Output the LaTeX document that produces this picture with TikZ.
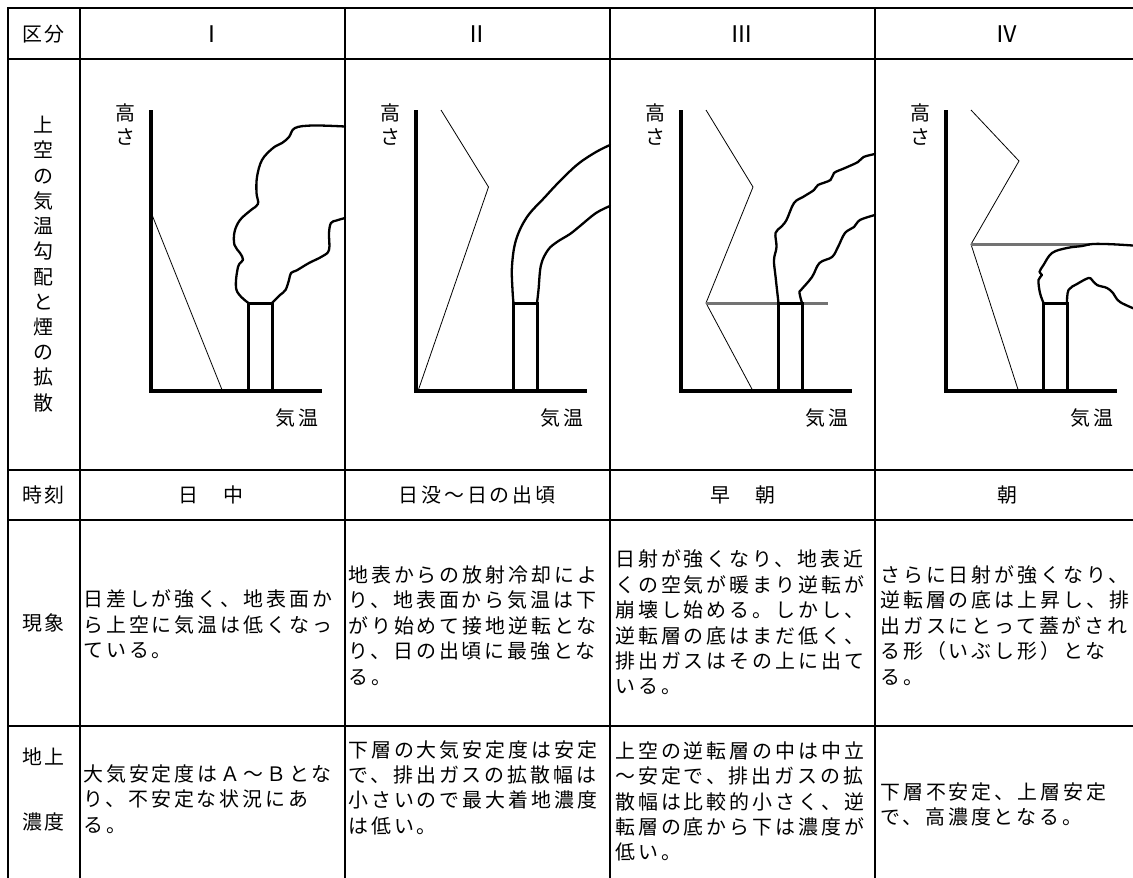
\documentclass[tikz,border=0pt]{standalone}
\usepackage{fontspec}
\usepackage{tikz}
\newfontfamily\jpfont{Noto Sans CJK JP}[LetterSpace=15]
\definecolor{invgray}{RGB}{115,115,115}

\begin{document}
\begin{tikzpicture}[x=1bp,y=-1bp,
		rule/.style={line width=2bp},
		axisline/.style={line width=3.3bp},
		stackline/.style={line width=3bp},
		smoke/.style={line width=2.3bp,line join=round,line cap=round},
		lapse/.style={line width=0.8bp},
		inversion/.style={line width=3bp,draw=invgray},
		jp/.style={font=\jpfont\fontsize{20}{25.5}\selectfont,inner sep=0pt},
		numeral/.style={jp,font=\jpfont\fontsize{23}{25}\selectfont},
		celltext/.style={jp,anchor=west,align=left},
		vert/.style={jp,align=center}]
	\useasboundingbox (0,0) rectangle (1133,878);

	\draw[rule] (7.5,878) -- (7.5,7.5) -- (1140,7.5);
	\draw[rule] (7.5,59) -- (1140,59);
	\draw[rule] (7.5,470) -- (1140,470);
	\draw[rule] (7.5,520) -- (1140,520);
	\draw[rule] (7.5,726) -- (1140,726);
	\draw[rule] (80,7.5) -- (80,878);
	\draw[rule] (345,7.5) -- (345,878);
	\draw[rule] (610,7.5) -- (610,878);
	\draw[rule] (875,7.5) -- (875,878);

	\node[jp] (kubun) at (43.5,34) {区分};
	\node[numeral] (num_I) at (212,34) {Ⅰ};
	\node[numeral] (num_II) at (477,34) {Ⅱ};
	\node[numeral] (num_III) at (742,34) {Ⅲ};
	\node[numeral] (num_IV) at (1007,34) {Ⅳ};
	\node[vert,font=\jpfont\fontsize{20}{25.3}\selectfont] (topic) at (43.5,264) {上\\空\\の\\気\\温\\勾\\配\\と\\煙\\の\\拡\\散};
	\node[jp] (jikoku) at (43.5,495) {時刻};
	\node[jp] (genshou) at (43.5,623) {現象};
	\node[jp] (chijou) at (43.5,757) {地上};
	\node[jp] (noudo) at (43.5,822) {濃度};

	\node[jp] (time_I) at (211,495) {日　中};
	\node[jp] (time_II) at (477,495) {日没～日の出頃};
	\node[jp] (time_III) at (743,495) {早　朝};
	\node[jp] (time_IV) at (1007,495) {朝};

	\node[celltext] (phen_I) at (83,624.5) {日差しが強く、地表面か\\ら上空に気温は低くなっ\\ている。};
	\node[celltext] (phen_II) at (348,625.5) {地表からの放射冷却によ\\り、地表面から気温は下\\がり始めて接地逆転とな\\り、日の出頃に最強とな\\る。};
	\node[celltext] (phen_III) at (615,622.5) {日射が強くなり、地表近\\くの空気が暖まり逆転が\\崩壊し始める。しかし、\\逆転層の底はまだ低く、\\排出ガスはその上に出て\\いる。};
	\node[celltext] (phen_IV) at (880,625.5) {さらに日射が強くなり、\\逆転層の底は上昇し、排\\出ガスにとって蓋がされ\\る形（いぶし形）とな\\る。};
	\node[celltext] (conc_I) at (83,799) {大気安定度はＡ～Ｂとな\\り、不安定な状況にあ\\る。};
	\node[celltext] (conc_II) at (348,787.5) {下層の大気安定度は安定\\で、排出ガスの拡散幅は\\小さいので最大着地濃度\\は低い。};
	\node[celltext] (conc_III) at (615,801.5) {上空の逆転層の中は中立\\～安定で、排出ガスの拡\\散幅は比較的小さく、逆\\転層の底から下は濃度が\\低い。};
	\node[celltext] (conc_IV) at (880,804.5) {下層不安定、上層安定\\で、高濃度となる。};

	\coordinate (o_I) at (151,391);
	\coordinate (o_II) at (416,391);
	\coordinate (o_III) at (681,391);
	\coordinate (o_IV) at (946,391);

	\node[vert,font=\jpfont\fontsize{20}{25}\selectfont] (height_I) at (125.5,124.5) {高\\さ};
	\node[jp] (temp_I) at (297,418) {気温};
	\draw[lapse] (152.5,216) -- (222.5,391);
	\draw[axisline] ([shift={(0,-281)}]o_I) -- (o_I) -- ([shift={(171,0)}]o_I);
	\draw[stackline] (248.5,391) |- (272,303) -- (272,391);
	\draw[smoke] plot[smooth,tension=0.6] coordinates {(248.5,303) (236.5,290) (238,267) (243,260) (240,253) (234.5,245) (234.5,232) (240,220) (251,210) (258,204) (256.5,193) (257,177) (262,160) (273,148) (282,143) (289,137) (295,128) (313,125.5) (345,126.5)};
	\draw[smoke] plot[smooth,tension=0.6] coordinates {(272,303) (280,295) (285.5,290) (289,280) (291,273) (296.5,270.5) (309,263) (322,256.5) (329,250) (329,233) (331,223) (336.5,220.5) (345,218)};

	\node[vert,font=\jpfont\fontsize{20}{25}\selectfont] (height_II) at (390.5,124.5) {高\\さ};
	\node[jp] (temp_II) at (562,418) {気温};
	\draw[lapse] (441,110) -- (488.5,187) -- (418,391);
	\draw[axisline] ([shift={(0,-281)}]o_II) -- (o_II) -- ([shift={(171,0)}]o_II);
	\draw[stackline] (513.5,391) |- (537,303) -- (537,391);
	\draw[smoke] plot[smooth,tension=0.6] coordinates {(513.5,303) (512.5,290) (512,266) (516,240) (527,217) (545,197) (560,181) (578,164) (596,152) (610,145)};
	\draw[smoke] plot[smooth,tension=0.6] coordinates {(537,303) (538.5,290) (541,265) (548,250) (557,242) (570,234) (580,226) (596,213) (610,206)};

	\node[vert,font=\jpfont\fontsize{20}{25}\selectfont] (height_III) at (655.5,124.5) {高\\さ};
	\node[jp] (temp_III) at (827,418) {気温};
	\draw[lapse] (706,110) -- (753,187) -- (706,303) -- (753,391);
	\draw[inversion] (706,303) -- (827.5,303);
	\draw[axisline] ([shift={(0,-281)}]o_III) -- (o_III) -- ([shift={(171,0)}]o_III);
	\draw[stackline] (778.5,391) |- (802,303) -- (802,391);
	\draw[smoke] plot[smooth,tension=0.6] coordinates {(778.5,303) (775.6,277) (774,260) (776.5,247) (775.5,233) (781,227) (786.5,220) (794,203) (803,197) (814,190) (818,185) (830.5,180) (834,173) (845,168) (858,162) (863.5,157) (875,154)};
	\draw[smoke] plot[smooth,tension=0.6] coordinates {(802,303) (799.5,293) (801,290) (812,277) (819.5,263) (832,257) (838,247) (845,233) (854,227) (860,220) (875,215)};

	\node[vert,font=\jpfont\fontsize{20}{25}\selectfont] (height_IV) at (920.5,124.5) {高\\さ};
	\node[jp] (temp_IV) at (1092,418) {気温};
	\draw[lapse] (971,110) -- (1019,161) -- (971,244.3) -- (1018.5,391);
	\draw[inversion] (971,244.3) -- (1090,244.3);
	\draw[axisline] ([shift={(0,-281)}]o_IV) -- (o_IV) -- ([shift={(171,0)}]o_IV);
	\draw[stackline] (1043.5,391) |- (1067,303) -- (1067,391);
	\draw[smoke] plot[smooth,tension=0.6] coordinates {(1043.5,303) (1040,293) (1038.5,280) (1042,275) (1039.5,272) (1043.5,265) (1052,253) (1067,248) (1082,246) (1093,244) (1113,244.3) (1140,246)};
	\draw[smoke] plot[smooth,tension=0.6] coordinates {(1067,303) (1068.5,290) (1077,284) (1088.5,278) (1092,280) (1097,285) (1107,288) (1113,293) (1120,302) (1140,311)};
\end{tikzpicture}
\end{document}
